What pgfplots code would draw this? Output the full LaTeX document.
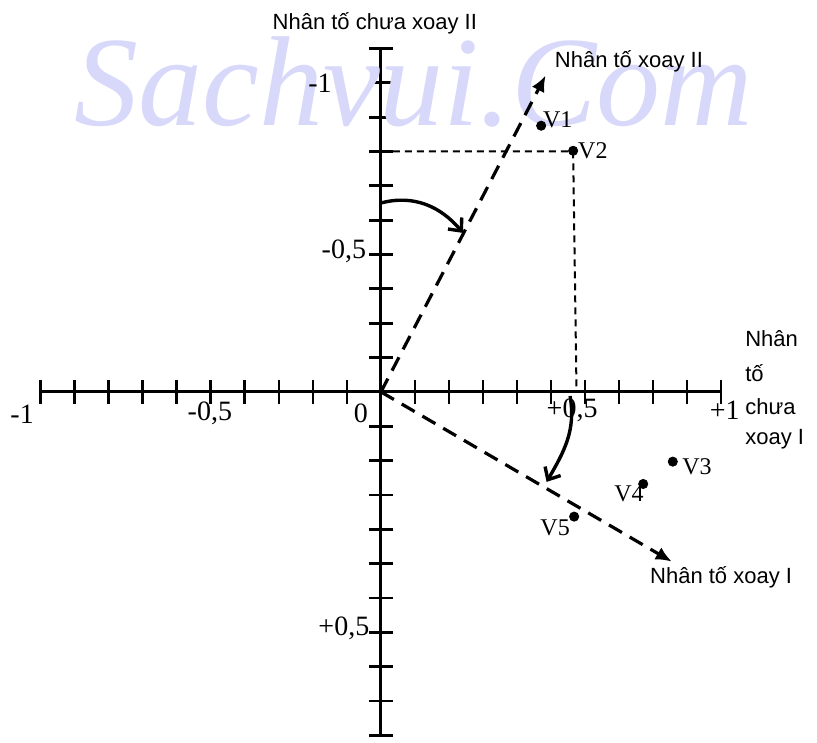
\documentclass[border=0pt]{standalone}
\usepackage{pgfplots}
\pgfplotsset{compat=1.18}
\usepackage{fontspec}
\setmainfont{Liberation Serif}
\newfontfamily\sansvn{Liberation Sans}
\usetikzlibrary{arrows.meta}
\definecolor{wmark}{RGB}{216,216,250}

\begin{document}
\begin{tikzpicture}
\begin{axis}[
  scale only axis,
  width=340.15pt, height=343.5pt,
  xmin=-1, xmax=1, ymin=-1, ymax=1,
  y dir=reverse,
  axis lines=center,
  axis line style={-, line width=1.5pt},
  every inner x axis line/.append style={-},
  every inner y axis line/.append style={-},
  xtick={-1,-0.9,-0.8,-0.7,-0.6,-0.5,-0.4,-0.3,-0.2,-0.1,0,0.1,0.2,0.3,0.4,0.5,0.6,0.7,0.8,0.9,1},
  ytick={-1,-0.9,-0.8,-0.7,-0.6,-0.5,-0.4,-0.3,-0.2,-0.1,0,0.1,0.2,0.3,0.4,0.5,0.6,0.7,0.8,0.9,1},
  xticklabels={}, yticklabels={},
  major tick length=12pt, tick align=center,
  tick style={line width=1.4pt, black},
  clip=false,
]
% watermark of the scan
\node[anchor=base west, inner sep=0pt, text=wmark,
      font=\fontsize{64}{70}\selectfont\itshape] at (axis cs:-0.903,-0.777) {Sachvui.Com};
\path (axis cs:-1.120,-1.141) rectangle (axis cs:1.282,1.004);

% projection of V2
\addplot[black, line width=1pt, dash pattern=on 3.5pt off 2.5pt]
  coordinates {(0,-0.700) (0.565,-0.700) (0.575,0)};

% rotated factor axes
\addplot[black, line width=1.6pt, dash pattern=on 7.5pt off 4.5pt,
         -{Latex[length=8pt,width=7pt]}]
  coordinates {(0,0) (0.484,-0.921)};
\addplot[black, line width=1.6pt, dash pattern=on 7.5pt off 4.5pt,
         -{Latex[length=8pt,width=7pt]}]
  coordinates {(0,0) (0.855,0.494)};

% variables
\addplot[only marks, mark=*, mark size=2.3pt, black]
  coordinates {(0.471,-0.775) (0.565,-0.702) (0.858,0.203) (0.771,0.268) (0.568,0.363)};

% rotation arrows
\draw[line width=1.7pt, -{Straight Barb[length=5pt,width=9pt]}]
  (axis cs:0,-0.55) to[out=15,in=130] (axis cs:0.241,-0.463);
\draw[line width=1.7pt, -{Straight Barb[length=5pt,width=9pt]}]
  (axis cs:0.556,0.012) to[out=-80,in=60] (axis cs:0.487,0.262);

% tick numbers
\begin{scope}[font=\fontsize{14}{16}\selectfont]
\node at (axis cs:-0.179,-0.900) {-1};
\node at (axis cs:-0.109,-0.408) {-0,5};
\node at (axis cs:-0.109,0.687) {+0,5};
\node at (axis cs:-1.055,0.064) {-1};
\node at (axis cs:-0.503,0.061) {-0,5};
\node at (axis cs:-0.059,0.061) {0};
\node at (axis cs:0.562,0.055) {+0,5};
\node at (axis cs:1.011,0.052) {+1};
\end{scope}

% point labels
\begin{scope}[font=\fontsize{12}{14}\selectfont]
\node at (axis cs:0.520,-0.792) {V1};
\node at (axis cs:0.623,-0.702) {V2};
\node at (axis cs:0.929,0.218) {V3};
\node at (axis cs:0.729,0.297) {V4};
\node at (axis cs:0.512,0.396) {V5};
\end{scope}

% axis titles
\begin{scope}[font=\sansvn\fontsize{11}{13}\selectfont]
\node at (axis cs:-0.018,-1.074) {Nhân tố chưa xoay II};
\node at (axis cs:0.729,-0.961) {Nhân tố xoay II};
\node at (axis cs:1.0,0.539) {Nhân tố xoay I};
\node[anchor=base west, inner sep=0pt] at (axis cs:1.070,-0.132) {Nhân};
\node[anchor=base west, inner sep=0pt] at (axis cs:1.070,-0.030) {tố};
\node[anchor=base west, inner sep=0pt] at (axis cs:1.070,0.067) {chưa};
\node[anchor=base west, inner sep=0pt] at (axis cs:1.070,0.154) {xoay I};
\end{scope}
\end{axis}
\end{tikzpicture}
\end{document}
